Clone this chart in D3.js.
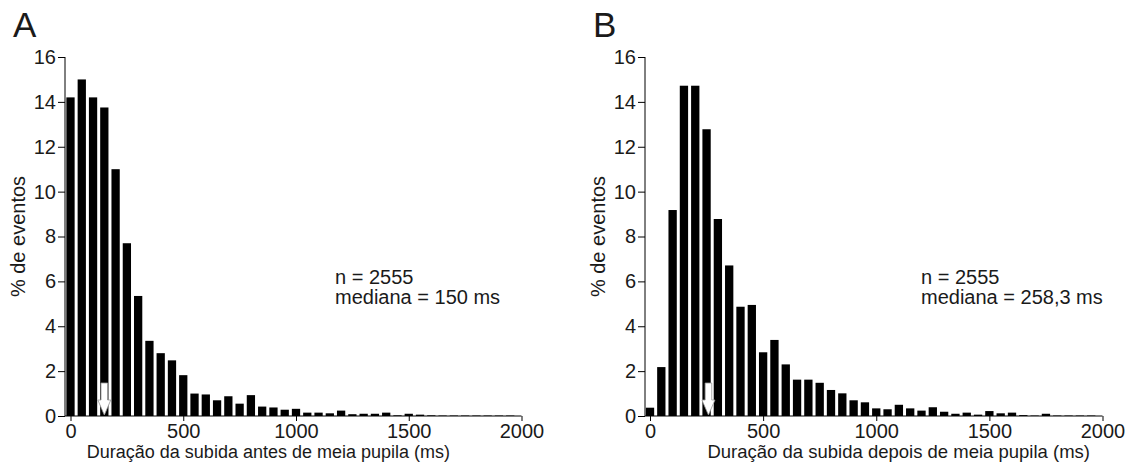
<!DOCTYPE html>
<html>
<head>
<meta charset="utf-8">
<script src="https://cdn.jsdelivr.net/npm/d3@7"></script>
<style>
	body { margin: 0; background: #fff; }
	svg text { font-family: 'Liberation Sans', Arial, sans-serif; fill: #1a1a1a; }
</style>
</head>
<body>
<div id="chart"></div>
<script>
// bin centres (ms), 50 ms bins
const bins = [0, 50, 100, 150, 200, 250, 300, 350, 400, 450, 500, 550, 600, 650, 700, 750, 800, 850, 900, 950,
	1000, 1050, 1100, 1150, 1200, 1250, 1300, 1350, 1400, 1450, 1500, 1550, 1600, 1650, 1700, 1750, 1800, 1850, 1900, 1950];

// % de eventos, antes de meia pupila
const antes = [14.2, 15.0, 14.2, 13.75, 11.0, 7.7, 5.35, 3.35, 2.8, 2.48, 1.82, 1.0, 0.96, 0.7, 0.88, 0.55, 0.93, 0.42, 0.38, 0.28,
	0.32, 0.15, 0.15, 0.12, 0.24, 0.08, 0.1, 0.1, 0.15, 0.03, 0.1, 0.06, 0.03, 0.02, 0.02, 0.02, 0.02, 0.02, 0.02, 0.02];

// % de eventos, depois de meia pupila
const depois = [0.37, 2.18, 9.18, 14.72, 14.72, 12.78, 8.78, 6.71, 4.87, 4.95, 2.84, 3.39, 2.3, 1.62, 1.62, 1.48, 1.16, 1.01, 0.7, 0.61,
	0.34, 0.3, 0.5, 0.34, 0.24, 0.39, 0.19, 0.1, 0.15, 0.06, 0.22, 0.12, 0.15, 0.04, 0.02, 0.1, 0.02, 0.02, 0.02, 0.02];

const xTicks = [0, 500, 1000, 1500, 2000];
const yTicks = [0, 2, 4, 6, 8, 10, 12, 14, 16];

const panels = [
	{letter: 'A', values: antes, median: 150, medianLabel: 'mediana = 150 ms',
		xLabel: 'Duração da subida antes de meia pupila (ms)', left: 65, x0: 70.5, x1: 521.5, textX: 335,
		labelEnd: 450, labelSize: 18},
	{letter: 'B', values: depois, median: 258.3, medianLabel: 'mediana = 258,3 ms',
		xLabel: 'Duração da subida depois de meia pupila (ms)', left: 645, x0: 650, x1: 1102.5, textX: 921,
		labelEnd: 1090, labelSize: 18.5}
];

const plotTop = 57;
const plotBottom = 416;
const binWidth = 50;

const svg = d3.select('#chart')
	.append('svg')
	.attr('width', 1129)
	.attr('height', 469);

const yScale = d3.scaleLinear().domain([0, 16]).range([plotBottom, plotTop]);

panels.forEach(p => drawPanel(p));

function drawPanel(p) {
	const xScale = d3.scaleLinear().domain([0, 2000]).range([p.x0, p.x1]);
	const g = svg.append('g');

	// bars
	g.selectAll('rect.bar')
		.data(bins)
		.enter()
		.append('rect')
			.attr('class', 'bar')
			.attr('x', d => xScale(d - binWidth / 2) + 1.5)
			.attr('width', xScale(binWidth) - xScale(0) - 3)
			.attr('y', (d, i) => yScale(p.values[i]))
			.attr('height', (d, i) => plotBottom - yScale(p.values[i]))
			.attr('fill', '#000');

	// median arrow
	addArrow(g, xScale(p.median));

	// y axis
	const yAxis = d3.axisLeft(yScale)
		.tickValues(yTicks)
		.tickSize(7)
		.tickPadding(2);

	const ya = g.append('g')
		.attr('transform', `translate(${p.left},0)`)
		.call(yAxis);
	ya.select('.domain').attr('d', `M0,${plotTop}V${plotBottom}`);
	ya.selectAll('text').style('font-size', '20px').attr('fill', '#1a1a1a');

	// x axis
	const xAxis = d3.axisBottom(xScale)
		.tickValues(xTicks)
		.tickFormat(d3.format('d'))
		.tickSize(5)
		.tickPadding(3);

	const xa = g.append('g')
		.attr('transform', `translate(0,${plotBottom})`)
		.call(xAxis);
	xa.select('.domain').attr('d', `M${p.left},0H${p.x1}`);
	xa.selectAll('text').style('font-size', '20px').attr('fill', '#1a1a1a');

	// labels
	g.append('text')
		.attr('transform', `translate(${p.left - 40},${(plotTop + plotBottom) / 2}) rotate(-90)`)
		.attr('text-anchor', 'middle')
		.style('font-size', '20px')
		.text('% de eventos');

	g.append('text')
		.attr('x', p.labelEnd)
		.attr('y', 458)
		.attr('text-anchor', 'end')
		.style('font-size', p.labelSize + 'px')
		.text(p.xLabel);

	g.append('text')
		.attr('x', p.left - 52)
		.attr('y', 37)
		.style('font-size', '35px')
		.text(p.letter);

	g.append('text')
		.attr('x', p.textX)
		.attr('y', 284)
		.style('font-size', '20px')
		.text('n = 2555');

	g.append('text')
		.attr('x', p.textX)
		.attr('y', 304)
		.style('font-size', '20px')
		.text(p.medianLabel);
}

function addArrow(g, cx) {
	const tip = plotBottom - 1;
	const path = d3.path();
	path.moveTo(cx - 3.3, tip - 32);
	path.lineTo(cx + 3.3, tip - 32);
	path.lineTo(cx + 3.3, tip - 15);
	path.lineTo(cx + 6.5, tip - 15);
	path.lineTo(cx, tip);
	path.lineTo(cx - 6.5, tip - 15);
	path.lineTo(cx - 3.3, tip - 15);
	path.closePath();

	g.append('path')
		.attr('d', path.toString())
		.attr('fill', '#fff')
		.attr('stroke', '#999')
		.attr('stroke-width', 0.8);
}
</script>
</body>
</html>
